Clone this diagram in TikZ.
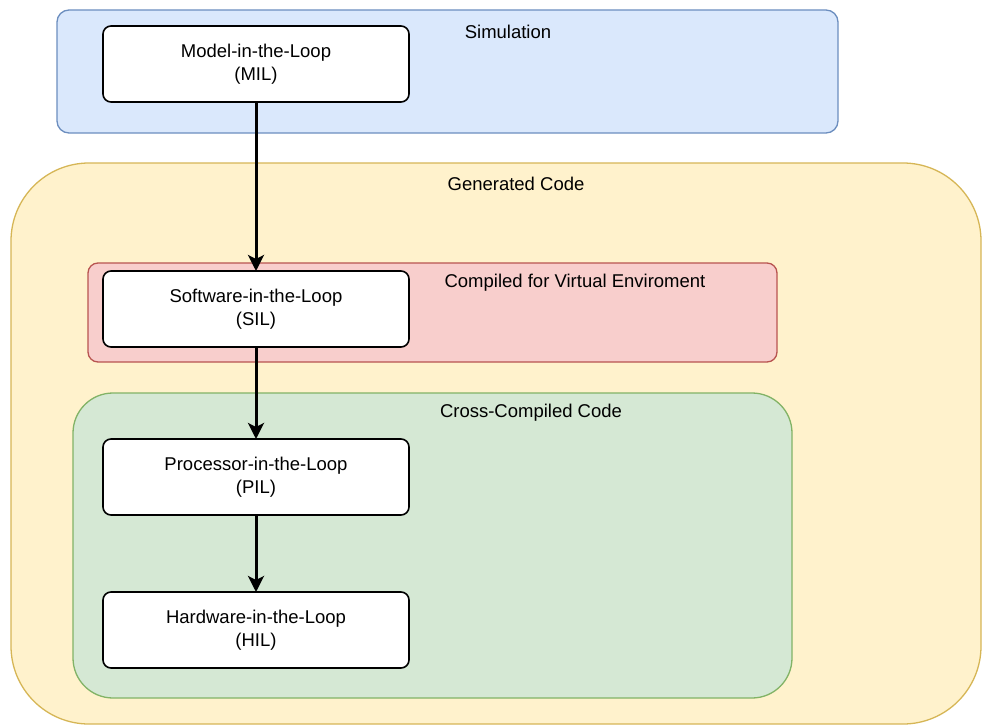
\documentclass[tikz,border=0pt]{standalone}
\usepackage{fontspec}
\setmainfont{Liberation Sans}
\usetikzlibrary{arrows.meta}
\definecolor{simfill}{HTML}{DAE8FC}\definecolor{simdraw}{HTML}{6C8EBF}
\definecolor{genfill}{HTML}{FFF2CC}\definecolor{gendraw}{HTML}{D6B656}
\definecolor{virtfill}{HTML}{F8CECC}\definecolor{virtdraw}{HTML}{B85450}
\definecolor{crossfill}{HTML}{D5E8D4}\definecolor{crossdraw}{HTML}{82B366}
\begin{document}
\begin{tikzpicture}[x=1pt,y=-1pt,
  group/.style={line width=1.3pt},
  stage/.style={draw=black,fill=white,line width=1.6pt,rounded corners=8pt},
  stagetext/.style={align=center,font=\fontsize{18.5}{23}\selectfont},
  grouptext/.style={font=\fontsize{18.5}{22}\selectfont},
  flow/.style={line width=3pt,-{Stealth[length=16pt,width=16pt,inset=4pt]}}]
\useasboundingbox (0,0) rectangle (982,725);
% environment groups
\draw[group,fill=simfill,draw=simdraw,rounded corners=12pt] (57,10) rectangle (838,133);
\draw[group,fill=genfill,draw=gendraw,rounded corners=78pt] (11,163) rectangle (981,724);
\draw[group,fill=virtfill,draw=virtdraw,rounded corners=10pt] (88,263) rectangle (777,362);
\draw[group,fill=crossfill,draw=crossdraw,rounded corners=40pt] (73,393) rectangle (792,698);
\node[grouptext] (simlbl) at (508,32) {Simulation};
\node[grouptext] (genlbl) at (516,184) {Generated Code};
\node[grouptext] (virtlbl) at (575,283) {Compiled for Virtual Enviroment};
\node[grouptext] (crosslbl) at (531,413) {Cross-Compiled Code};
% test stages
\draw[stage] (103,26) rectangle (409,102);
\draw[stage] (103,271) rectangle (409,347);
\draw[stage] (103,439) rectangle (409,515);
\draw[stage] (103,592) rectangle (409,668);
\node[stagetext] (mil) at (256,64) {Model-in-the-Loop\\(MIL)};
\node[stagetext] (sil) at (256,309) {Software-in-the-Loop\\(SIL)};
\node[stagetext] (pil) at (256,477) {Processor-in-the-Loop\\(PIL)};
\node[stagetext] (hil) at (256,630) {Hardware-in-the-Loop\\(HIL)};
\coordinate (milb) at (256,102);
\coordinate (silt) at (256,271);
\coordinate (silb) at (256,347);
\coordinate (pilt) at (256,439);
\coordinate (pilb) at (256,515);
\coordinate (hilt) at (256,592);
\draw[flow] (milb) -- (silt);
\draw[flow] (silb) -- (pilt);
\draw[flow] (pilb) -- (hilt);
\end{tikzpicture}
\end{document}
